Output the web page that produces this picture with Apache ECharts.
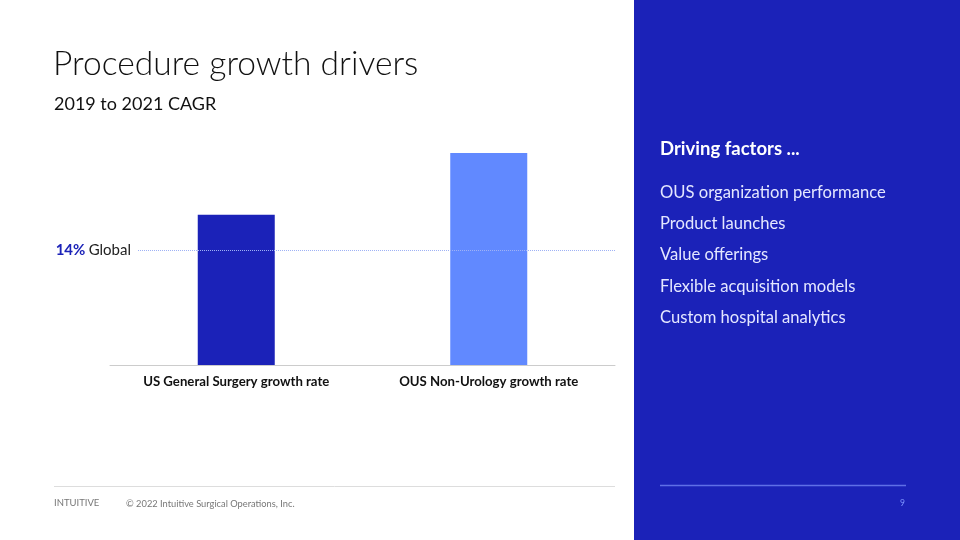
<!DOCTYPE html>
<html><head><meta charset="utf-8">
<script src="https://cdn.jsdelivr.net/npm/echarts@6/dist/echarts.min.js"></script>
<style>html,body{margin:0;padding:0;background:#fff}#c{width:960px;height:540px}</style>
</head><body><div id="c"></div>
<script>
const categories = ["US General Surgery growth rate", "OUS Non-Urology growth rate"];
const growthValues = [18.3, 25.8];
const globalRate = 14;
const factors = ["OUS organization performance", "Product launches", "Value offerings", "Flexible acquisition models", "Custom hospital analytics"];

const BLUE = '#1b22b8';
const LIGHT = '#6189ff';
const FONT = 'Lato, "Noto Sans", sans-serif';

const chart = echarts.init(document.getElementById('c'), null, {renderer: 'canvas'});

const graphics = [
  {type: 'rect', shape: {x: 634, y: 0, width: 326, height: 540}, style: {fill: BLUE}, z: -1},
  {type: 'text', left: 53, top: 47, style: {text: 'Procedure growth drivers', fill: '#111', font: '300 33.6px ' + FONT}},
  {type: 'text', left: 54, top: 95, style: {text: '2019 to 2021 CAGR', fill: '#111', font: '400 18px ' + FONT}},
  {type: 'text', left: 660, top: 140, style: {text: 'Driving factors ...', fill: '#fff', font: 'bold 18.5px ' + FONT, letterSpacing: 1}},
  {type: 'line', shape: {x1: 54, y1: 486.5, x2: 615, y2: 486.5}, style: {stroke: '#dddddd', lineWidth: 1}},
  {type: 'text', left: 54, top: 498, style: {text: 'INTUITIVE', fill: '#777', font: '400 9.5px ' + FONT, letterSpacing: 2.2}},
  {type: 'text', left: 126, top: 499, style: {text: '\u00a9 2022 Intuitive Surgical Operations, Inc.', fill: '#777', font: '400 9.3px ' + FONT}},
  {type: 'line', shape: {x1: 660, y1: 485.5, x2: 906, y2: 485.5}, style: {stroke: '#5f6fe6', lineWidth: 1.5}},
  {type: 'text', left: 900, top: 499, style: {text: '9', fill: '#7f95ff', font: '400 8.5px ' + FONT}}
];
factors.forEach((f, i) => {
  graphics.push({type: 'text', left: 660, top: 184 + i * 31.3, style: {text: f, fill: '#e4e7ff', font: '400 16.6px ' + FONT}});
});

chart.setOption({
  animation: false,
  backgroundColor: '#fff',
  graphic: graphics,
  grid: [
    {left: 110, right: 345, top: 135, bottom: 175},
    {left: 138, right: 345, top: 135, bottom: 175}
  ],
  xAxis: [
    {type: 'category', gridIndex: 0, data: categories,
     axisLine: {lineStyle: {color: '#cccccc'}}, axisTick: {show: false},
     axisLabel: {color: '#111', fontWeight: 'bold', fontSize: 13.2, fontFamily: FONT, margin: 10}},
    {type: 'value', gridIndex: 1, min: 0, max: 1, show: false}
  ],
  yAxis: [
    {type: 'value', gridIndex: 0, min: 0, max: 28, show: false, splitLine: {show: false}},
    {type: 'value', gridIndex: 1, min: 0, max: 28, show: false, splitLine: {show: false}}
  ],
  series: [
    {type: 'bar', xAxisIndex: 0, yAxisIndex: 0, barWidth: 77,
     data: growthValues.map((v, i) => ({value: v, itemStyle: {color: i === 0 ? BLUE : LIGHT}})),
     z: 3},
    {type: 'line', xAxisIndex: 1, yAxisIndex: 1, data: [], z: 2,
     markLine: {symbol: 'none', silent: true,
       lineStyle: {color: '#9fb2f5', type: [1, 1], width: 1},
       label: {position: 'start', distance: 7,
         formatter: '{a|' + globalRate + '%} {b|Global}',
         rich: {a: {color: BLUE, fontWeight: 'bold', fontSize: 15, fontFamily: FONT},
                b: {color: '#222', fontSize: 15, fontFamily: FONT}}},
       data: [{yAxis: globalRate}]}}
  ]
});
</script></body></html>
